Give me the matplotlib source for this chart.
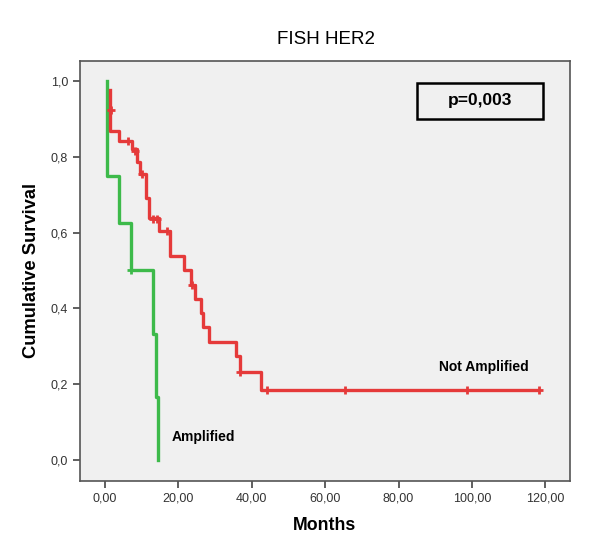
import matplotlib
matplotlib.use("Agg")
import matplotlib.pyplot as plt
from matplotlib.patches import Rectangle

plt.rcParams['font.family'] = ['Liberation Sans', 'DejaVu Sans']

# Not Amplified (red) step curve
red_t = [1.4, 1.4, 3.9, 7.3, 8.8, 9.5, 11.2, 12.0, 14.8, 17.7, 21.4, 23.4, 24.5,
         26.3, 26.8, 28.4, 35.7, 36.8, 42.4, 118.3]
red_s = [0.976, 0.868, 0.842, 0.820, 0.785, 0.754, 0.692, 0.639, 0.604, 0.538,
         0.501, 0.462, 0.425, 0.388, 0.350, 0.310, 0.273, 0.233, 0.185, 0.185]
red_cens_t = [1.6, 6.4, 8.2, 10.0, 13.0, 14.1, 17.0, 23.6, 36.8, 44.2, 65.4, 98.7, 118.3]
red_cens_s = [0.923, 0.842, 0.815, 0.754, 0.637, 0.637, 0.604, 0.462, 0.233, 0.185,
              0.185, 0.185, 0.185]

# Amplified (green) step curve
green_t = [0.45, 0.45, 3.8, 7.0, 13.2, 13.9, 14.5]
green_s = [1.0, 0.75, 0.625, 0.5, 0.333, 0.167, 0.0]
green_cens_t = [7.0]
green_cens_s = [0.5]

xticks = [0, 20, 40, 60, 80, 100, 120]
xticklabels = ["0,00", "20,00", "40,00", "60,00", "80,00", "100,00", "120,00"]
yticks = [0.0, 0.2, 0.4, 0.6, 0.8, 1.0]
yticklabels = ["0,0", "0,2", "0,4", "0,6", "0,8", "1,0"]

red = "#e53a3a"
green = "#3dba4a"

fig = plt.figure(figsize=(6.0, 5.49), dpi=100)
ax = fig.add_axes([80/600, 1 - 481/549, 490/600, 420/549])
ax.set_facecolor("#f0f0f0")

ax.step(green_t, green_s, where="post", color=green, lw=2.4, zorder=2)
ax.plot(green_cens_t, green_cens_s, ls="none", marker="+", ms=6, mew=2, color=green, zorder=3)
ax.step(red_t, red_s, where="post", color=red, lw=2.4, zorder=3)
ax.plot(red_cens_t, red_cens_s, ls="none", marker="+", ms=6, mew=2, color=red, zorder=4)

ax.set_xlim(-6.8, 126.7)
ax.set_ylim(-0.056, 1.053)
ax.set_xticks(xticks)
ax.set_xticklabels(xticklabels)
ax.set_yticks(yticks)
ax.set_yticklabels(yticklabels)
ax.tick_params(axis="both", direction="out", length=5, width=1.2, color="#444444",
               labelsize=9, labelcolor="#333333")
for sp in ax.spines.values():
    sp.set_color("#555555")
    sp.set_linewidth(1.2)

ax.set_xlabel("Months", fontsize=12.8, fontweight="bold", labelpad=9)
ax.set_ylabel("Cumulative Survival", fontsize=13.2, fontweight="bold", labelpad=8)
fig.text(326/600, 1 - 40/549, "FISH HER2", ha="center", va="center", fontsize=13.5)

ax.add_patch(Rectangle((0.688, 0.862), 0.257, 0.086, transform=ax.transAxes,
                       facecolor="none", edgecolor="black", lw=1.8, zorder=5))
ax.text(0.816, 0.905, "p=0,003", transform=ax.transAxes, ha="center", va="center",
        fontsize=12.5, fontweight="bold", zorder=6)

ax.text(18.3, 0.06, "Amplified", ha="left", va="center", fontsize=10, fontweight="bold")
ax.text(91, 0.245, "Not Amplified", ha="left", va="center", fontsize=10, fontweight="bold")

fig.savefig("out.png", dpi=100)
